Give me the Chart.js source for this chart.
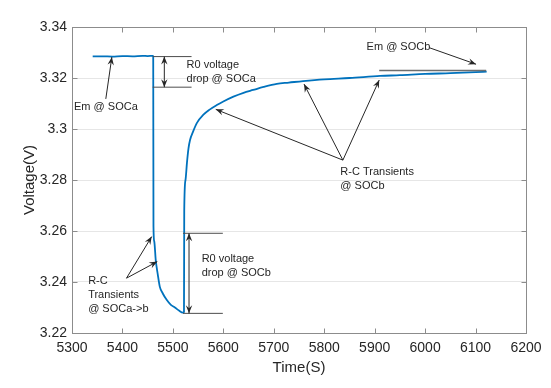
<!DOCTYPE html>
<html>
<head>
<meta charset="utf-8">
<script src="https://cdn.jsdelivr.net/npm/chart.js@4/dist/chart.umd.min.js"></script>
<style>
  html, body { margin: 0; padding: 0; background: #fff; }
  canvas { display: block; }
</style>
</head>
<body>
<canvas id="voltageChart" width="551" height="388"></canvas>
<script>
// Values
const timeS = [5341, 5360, 5380, 5400, 5420, 5440, 5450, 5460, 5461,
    5461.5, 5463, 5466, 5470, 5474, 5480, 5488, 5496, 5504, 5512, 5520, 5522,
    5522.5, 5525, 5528, 5531, 5534, 5540, 5548, 5560, 5572, 5587, 5600, 5620,
    5640, 5659, 5680, 5706, 5730, 5758, 5800, 5850, 5911, 5950, 6000, 6050, 6100, 6122];
const voltageV = [3.3285, 3.3285, 3.3284, 3.3286, 3.3285, 3.3287, 3.3286, 3.3287, 3.3285,
    3.2620, 3.2560, 3.2486, 3.2430, 3.2382, 3.2355, 3.2329, 3.2310, 3.2300, 3.2288, 3.2280, 3.2282,
    3.2680, 3.2800, 3.2870, 3.2925, 3.2957, 3.2990, 3.3025, 3.3055, 3.3075, 3.3094, 3.3108, 3.3127,
    3.3142, 3.3153, 3.3165, 3.3177, 3.3182, 3.3188, 3.3195, 3.3200, 3.3208, 3.3211, 3.3216, 3.3219, 3.3223, 3.3225];

const xTicks = [5300, 5400, 5500, 5600, 5700, 5800, 5900, 6000, 6100, 6200];
const yTicks = [3.22, 3.24, 3.26, 3.28, 3.3, 3.32, 3.34];

// Annotations, in axis units
const noteTexts = [
    { lines: ['Em @ SOCa'], x: 5304, y: 3.3086 },
    { lines: ['R0 voltage', 'drop @ SOCa'], x: 5527, y: 3.3251 },
    { lines: ['R-C Transients', '@ SOCb'], x: 5832, y: 3.2831 },
    { lines: ['Em @ SOCb'], x: 5884, y: 3.3323 },
    { lines: ['R-C', 'Transients', '@ SOCa->b'], x: 5332, y: 3.2405 },
    { lines: ['R0 voltage', 'drop @ SOCb'], x: 5557, y: 3.2489 }
];
const noteArrows = [
    { from: [5367, 3.3118], to: [5379, 3.3282] },
    { from: [5837, 3.2878], to: [5585, 3.3077] },
    { from: [5837, 3.2878], to: [5760, 3.3176] },
    { from: [5837, 3.2878], to: [5909, 3.3192] },
    { from: [6008, 3.3319], to: [6101, 3.3254] },
    { from: [5408, 3.2415], to: [5458, 3.2578] },
    { from: [5408, 3.2415], to: [5469, 3.2480] }
];
const noteSpans = [
    { x: 5483, y1: 3.3284, y2: 3.3164 },
    { x: 5532, y1: 3.2591, y2: 3.2277 }
];
const noteLevels = [
    { x1: 5460, x2: 5537, y: 3.3284 },
    { x1: 5460, x2: 5537, y: 3.3164 },
    { x1: 5520, x2: 5599, y: 3.2591 },
    { x1: 5520, x2: 5599, y: 3.2277 },
    { x1: 5909, x2: 6121, y: 3.3229, color: '#6e6e6e', width: 1.5 }
];

const inkColor = '#262626';
const boxColor = '#8c8c8c';

// Draws a filled arrow head pointing to (x2, y2)
function arrowHead(ctx, x1, y1, x2, y2) {
    const a = Math.atan2(y2 - y1, x2 - x1);
    const len = 8, half = 3.2;
    const cx = Math.cos(a), sy = Math.sin(a);
    ctx.beginPath();
    ctx.moveTo(x2, y2);
    ctx.lineTo(x2 - len * cx - half * sy, y2 - len * sy + half * cx);
    ctx.lineTo(x2 - len * 0.65 * cx, y2 - len * 0.65 * sy);
    ctx.lineTo(x2 - len * cx + half * sy, y2 - len * sy - half * cx);
    ctx.closePath();
    ctx.fill();
}

function line(ctx, x1, y1, x2, y2) {
    ctx.beginPath();
    ctx.moveTo(x1, y1);
    ctx.lineTo(x2, y2);
    ctx.stroke();
}

// Box, inward ticks and annotations drawn on top of the chart
const matlabLook = {
    id: 'matlabLook',
    afterDraw(chart) {
        const { ctx, chartArea: area, scales: { x, y } } = chart;
        ctx.save();

        // axes box with inward ticks
        ctx.strokeStyle = boxColor;
        ctx.lineWidth = 1;
        const L = Math.round(area.left) + 0.5, R = Math.round(area.right) + 0.5;
        const T = Math.round(area.top) + 0.5, B = Math.round(area.bottom) + 0.5;
        ctx.strokeRect(L, T, R - L, B - T);
        xTicks.forEach(v => {
            const px = Math.round(x.getPixelForValue(v)) + 0.5;
            line(ctx, px, B, px, B - 5);
            line(ctx, px, T, px, T + 5);
        });
        yTicks.forEach(v => {
            const py = Math.round(y.getPixelForValue(v)) + 0.5;
            line(ctx, L, py, L + 5, py);
            line(ctx, R, py, R - 5, py);
        });

        // level lines
        noteLevels.forEach(l => {
            ctx.strokeStyle = l.color || '#4d4d4d';
            ctx.lineWidth = l.width || 1;
            const py = y.getPixelForValue(l.y);
            line(ctx, x.getPixelForValue(l.x1), py, x.getPixelForValue(l.x2), py);
        });

        // arrows
        ctx.strokeStyle = inkColor;
        ctx.fillStyle = inkColor;
        ctx.lineWidth = 1;
        noteArrows.forEach(a => {
            const x1 = x.getPixelForValue(a.from[0]), y1 = y.getPixelForValue(a.from[1]);
            const x2 = x.getPixelForValue(a.to[0]), y2 = y.getPixelForValue(a.to[1]);
            line(ctx, x1, y1, x2, y2);
            arrowHead(ctx, x1, y1, x2, y2);
        });
        noteSpans.forEach(s => {
            const px = x.getPixelForValue(s.x);
            const p1 = y.getPixelForValue(s.y1), p2 = y.getPixelForValue(s.y2);
            line(ctx, px, p1, px, p2);
            arrowHead(ctx, px, p2, px, p1);
            arrowHead(ctx, px, p1, px, p2);
        });

        // texts
        ctx.font = '11px "Liberation Sans", Arial, sans-serif';
        ctx.textBaseline = 'middle';
        ctx.textAlign = 'left';
        noteTexts.forEach(t => {
            const px = x.getPixelForValue(t.x), py = y.getPixelForValue(t.y);
            t.lines.forEach((s, i) => ctx.fillText(s, px, py + i * 14));
        });

        ctx.restore();
    }
};

const ctx = document.getElementById('voltageChart').getContext('2d');
const chart = new Chart(ctx, {
    type: 'line',
    data: {
        datasets: [{
            data: timeS.map((t, i) => ({ x: t, y: voltageV[i] })),
            borderColor: '#0072BD',
            borderWidth: 1.8,
            pointRadius: 0,
            cubicInterpolationMode: 'monotone',
            fill: false
        }]
    },
    options: {
        responsive: false,
        animation: false,
        devicePixelRatio: 1,
        layout: { padding: { top: 27, right: 25, left: 0, bottom: 0 } },
        plugins: { legend: { display: false }, tooltip: { enabled: false } },
        scales: {
            x: {
                type: 'linear',
                min: 5300,
                max: 6200,
                afterBuildTicks: scale => { scale.ticks = xTicks.map(v => ({ value: v })); },
                afterFit: scale => { scale.height = 55; },
                grid: { display: false, drawTicks: false },
                border: { display: false },
                ticks: {
                    color: inkColor,
                    padding: 7,
                    maxRotation: 0,
                    font: { family: '"Liberation Sans", Arial', size: 14 },
                    callback: v => String(v)
                },
                title: {
                    display: true,
                    text: 'Time(S)',
                    color: inkColor,
                    padding: { top: 0, bottom: 11 },
                    font: { family: '"Liberation Sans", Arial', size: 15 }
                }
            },
            y: {
                min: 3.22,
                max: 3.34,
                afterBuildTicks: scale => { scale.ticks = yTicks.map(v => ({ value: v })); },
                afterFit: scale => { scale.width = 72; },
                grid: { color: '#e6e6e6', drawTicks: false },
                border: { display: false },
                ticks: {
                    color: inkColor,
                    padding: 5,
                    font: { family: '"Liberation Sans", Arial', size: 14 },
                    callback: v => String(Number(v.toFixed(2)))
                },
                title: {
                    display: true,
                    text: 'Voltage(V)',
                    color: inkColor,
                    padding: { top: 21, bottom: 0 },
                    font: { family: '"Liberation Sans", Arial', size: 15 }
                }
            }
        }
    },
    plugins: [matlabLook]
});
</script>
</body>
</html>
